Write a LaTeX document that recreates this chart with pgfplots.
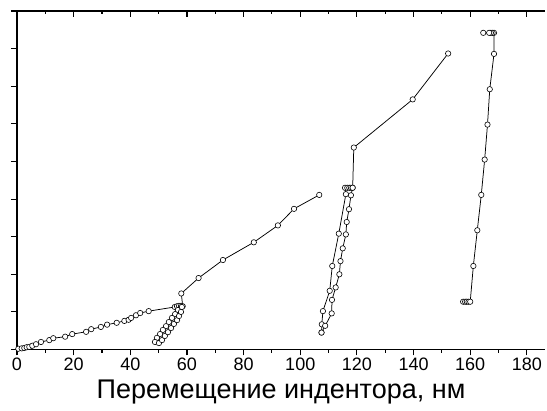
\documentclass[border=0pt]{standalone}
\usepackage{fontspec}
\setmainfont{Liberation Sans}
\usepackage{pgfplots}
\pgfplotsset{compat=1.18}
\begin{document}
\begin{tikzpicture}
\useasboundingbox (-17pt,-61.5pt) rectangle (530pt,349.5pt);
\pgfplotsset{
  common/.style={
    at={(0,0)}, anchor=south west,
    width=528pt, height=338.5pt, scale only axis,
    xmin=0, xmax=186.4, ymin=0, ymax=9,
    axis line style={-, line width=1.3pt},
    xtick={0,20,...,180}, minor xtick={10,30,...,170},
    major tick length=6pt, minor tick length=3.5pt,
    every tick/.style={line width=1.1pt, black},
    /pgf/number format/assume math mode=true,
  },
  ser/.style={black, line width=0.75pt, mark=*, mark size=2.7pt,
    mark options={fill=white, draw=black, line width=0.6pt}},
}
\begin{axis}[common,
  axis x line*=top, axis y line=none, tick align=inside,
  xticklabels={}]
\end{axis}
\begin{axis}[common,
  axis x line*=bottom, axis y line*=left, tick align=outside,
  ytick={0,...,9}, yticklabels={},
  ticklabel style={font=\fontsize{18}{21}\selectfont},
  xticklabel style={yshift=1pt},
  xlabel={Перемещение индентора, нм},
  xlabel style={font=\fontsize{27}{32}\selectfont, yshift=-2pt},
  clip=false]
\addplot[ser] coordinates {
(0.46,0.02) (1.66,0.03) (2.58,0.04) (3.42,0.06) (4.34,0.07) (5.40,0.10)
(6.71,0.14) (8.47,0.20) (11.4,0.25) (12.8,0.30) (17.0,0.34) (19.5,0.41)
(24.4,0.47) (26.2,0.54) (29.6,0.60) (31.8,0.66) (35.2,0.71) (37.9,0.76)
(39.4,0.79) (40.3,0.84) (42.0,0.91) (43.5,0.97) (46.5,1.02) (55.7,1.13)
(56.5,1.15) (57.2,1.16) (57.9,1.16) (58.5,1.15) (58.0,1.49) (64.1,1.90)
(72.7,2.38) (83.6,2.85) (92.1,3.30) (97.8,3.74) (106.7,4.11)
};
\addplot[ser] coordinates {
(56.8,1.05) (55.8,0.94) (54.7,0.84) (53.6,0.73) (52.6,0.62) (51.5,0.52)
(50.5,0.41) (49.4,0.31) (48.7,0.20) (50.1,0.17) (51.2,0.25) (52.2,0.36)
(53.3,0.46) (54.4,0.57) (55.4,0.68) (56.5,0.78) (57.2,0.89) (57.9,1.00)
(58.2,1.13)
};
\addplot[ser] coordinates {
(107.5,0.45) (107.6,0.67) (108.0,1.02) (110.4,1.56) (111.3,2.22) (113.6,3.08)
(116.1,4.13) (115.8,4.30) (116.6,4.30) (117.3,4.30) (117.9,4.30) (118.5,4.30) (118.9,5.37)
(139.7,6.65) (152.2,7.87)
};
\addplot[ser] coordinates {
(118.5,4.30) (117.9,4.10) (117.2,3.73) (116.4,3.39) (116.1,3.06) (115.0,2.69)
(114.2,2.35) (113.8,2.00) (112.5,1.65) (111.2,1.32) (111.1,0.96) (108.8,0.63)
(107.5,0.45)
};
\addplot[ser] coordinates {
(157.5,1.27) (158.2,1.27) (158.8,1.27) (159.4,1.27) (160.0,1.27) (161.1,2.22)
(162.5,3.17) (163.9,4.11) (165.1,5.05) (166.1,5.98) (166.9,6.92) (168.4,7.86)
(168.4,8.42) (167.9,8.42) (167.3,8.42) (166.7,8.42) (164.6,8.42)
};
\end{axis}
\end{tikzpicture}
\end{document}
